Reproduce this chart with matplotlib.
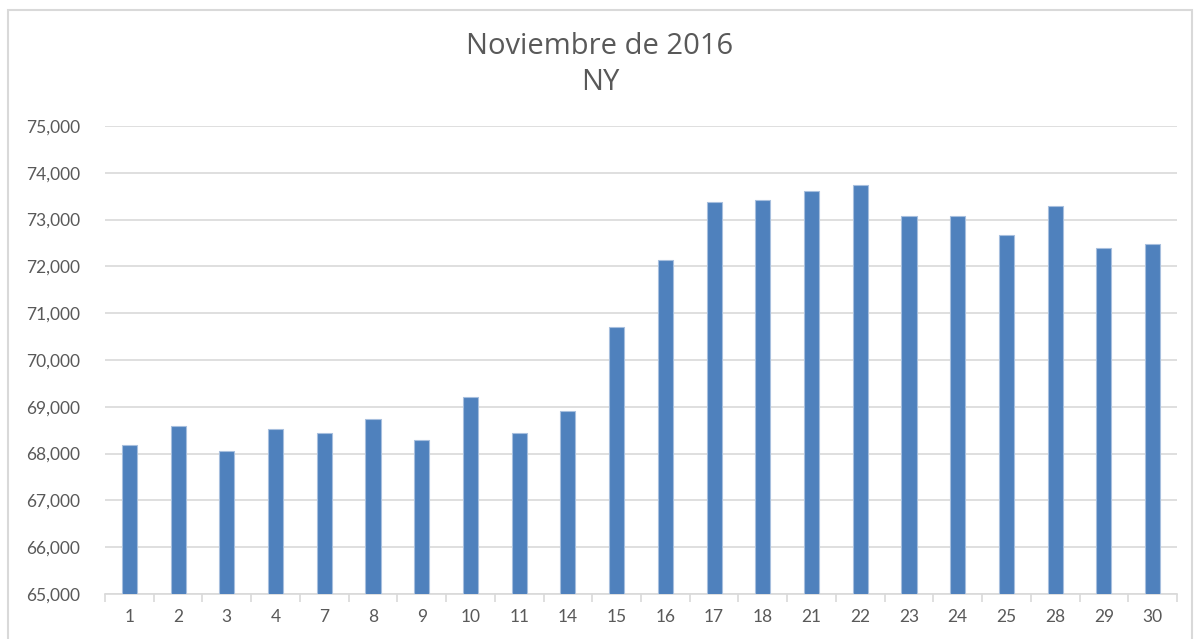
import matplotlib.pyplot as plt
from matplotlib.patches import Rectangle
from matplotlib.ticker import FuncFormatter, FixedLocator

# Data
days = ["1", "2", "3", "4", "7", "8", "9", "10", "11", "14", "15",
        "16", "17", "18", "21", "22", "23", "24", "25", "28", "29", "30"]
values = [68180, 68590, 68050, 68520, 68440, 68740, 68290, 69210, 68440, 68910, 70700,
          72140, 73370, 73420, 73610, 73740, 73080, 73080, 72670, 73290, 72390, 72480]
title_lines = ["Noviembre de 2016", "NY"]

plt.rcParams["font.family"] = ["Lato", "DejaVu Sans"]
text_color = "#595959"
grid_color = "#D9D9D9"

fig = plt.figure(figsize=(12, 6.39), dpi=100)
ax = fig.add_axes([105 / 1200, 1 - 594 / 639, (1177 - 105) / 1200, (594 - 126) / 639])

x = list(range(len(days)))
ax.bar(x, values, width=0.31, color="#4F81BD", edgecolor="#A7BFDE", linewidth=0.8,
       zorder=3)

ax.set_ylim(65000, 75000)
ax.set_xlim(-0.5, len(days) - 0.5)
ax.set_yticks(range(65000, 75001, 1000))
ax.yaxis.set_major_formatter(FuncFormatter(lambda v, p: f"{int(v):,}"))
ax.set_xticks(x)
ax.set_xticklabels(days)
ax.xaxis.set_minor_locator(FixedLocator([i - 0.5 for i in range(len(days) + 1)]))

ax.grid(axis="y", color=grid_color, linewidth=1.2, zorder=0)
for s in ["top", "right", "left"]:
    ax.spines[s].set_visible(False)
ax.spines["bottom"].set_color(grid_color)
ax.spines["bottom"].set_linewidth(1.2)

ax.tick_params(axis="y", length=0, labelsize=12.5, labelcolor=text_color, pad=18)
ax.tick_params(axis="x", which="major", length=0, labelsize=12.5, labelcolor=text_color, pad=11)
ax.tick_params(axis="x", which="minor", length=6, color=grid_color, width=1.2)

fig.text(0.5, 1 - 46 / 639, title_lines[0], ha="center", va="center",
         fontsize=21, color=text_color, family=["Open Sans", "DejaVu Sans"])
fig.text(0.5, 1 - 82 / 639, title_lines[1], ha="center", va="center",
         fontsize=21, color=text_color, family=["Open Sans", "DejaVu Sans"])

# outer chart border
fig.patches.append(Rectangle((8 / 1200, -0.05), (1192 - 8) / 1200, 1.05 - 10 / 639,
                             transform=fig.transFigure, fill=False,
                             edgecolor="#D9D9D9", linewidth=1.5))

plt.savefig("out.png", dpi=100)
plt.close()
